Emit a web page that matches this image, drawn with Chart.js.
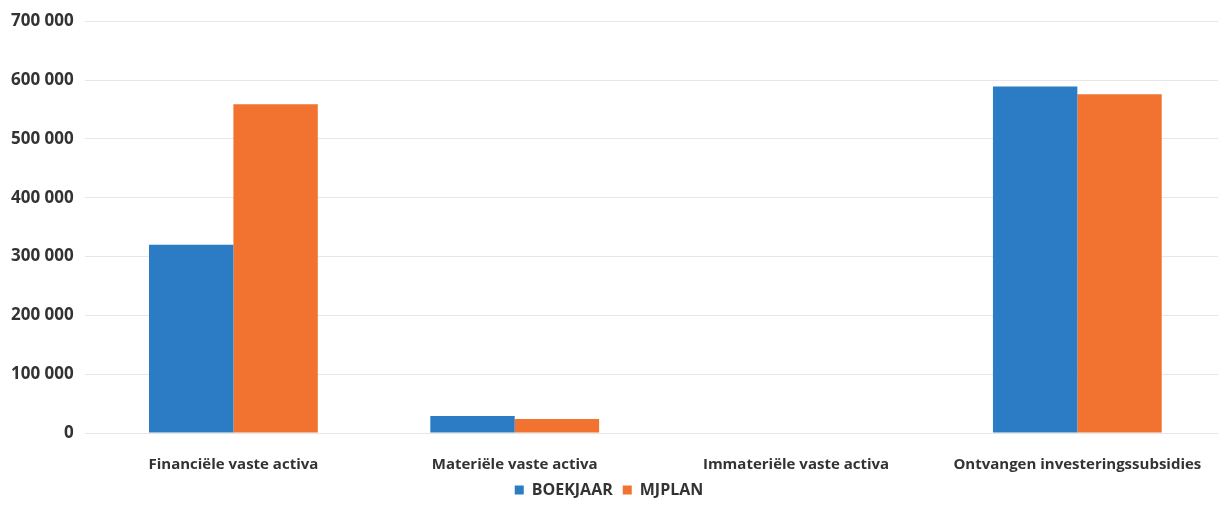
<!DOCTYPE html>
<html>
<head>
<meta charset="utf-8">
<script src="https://cdn.jsdelivr.net/npm/chart.js@4/dist/chart.umd.min.js"></script>
<style>
  html, body { margin: 0; padding: 0; background: #fff; }
  #wrap { width: 1222px; height: 512px; }
</style>
</head>
<body>
<div id="wrap"><canvas id="investChart"></canvas></div>
<script>
var categories = ["Financiële vaste activa", "Materiële vaste activa", "Immateriële vaste activa", "Ontvangen investeringssubsidies"];
var boekjaar = [320000, 29000, 0, 589000];
var mjplan = [559000, 24000, 0, 576000];
var yTicks = [0, 100000, 200000, 300000, 400000, 500000, 600000, 700000];

Chart.defaults.font.family = "'Open Sans', Lato, sans-serif";
Chart.defaults.font.weight = "bold";
Chart.defaults.color = "#333333";

var ctx = document.getElementById("investChart").getContext("2d");
var investChart = new Chart(ctx, {
    type: "bar",
    data: {
        labels: categories,
        datasets: [
            { label: "BOEKJAAR", data: boekjaar, backgroundColor: "#2b7cc4" },
            { label: "MJPLAN", data: mjplan, backgroundColor: "#f2722f" }
        ]
    },
    options: {
        responsive: true,
        maintainAspectRatio: false,
        animation: false,
        layout: { padding: { top: 9, right: 4, left: 0, bottom: 4 } },
        datasets: { bar: { categoryPercentage: 0.6, barPercentage: 1.0 } },
        plugins: {
            legend: {
                position: "bottom",
                labels: { boxWidth: 9, boxHeight: 9, padding: 10, font: { size: 16 } }
            },
            tooltip: { enabled: false }
        },
        scales: {
            x: {
                grid: { display: false },
                border: { display: false },
                ticks: { font: { size: 15 }, padding: 15, maxRotation: 0 },
                afterFit: function (axis) { axis.height = axis.height - 17; }
            },
            y: {
                min: 0,
                max: 700000,
                afterBuildTicks: function (axis) {
                    axis.ticks = yTicks.map(function (v) { return { value: v }; });
                },
                grid: { color: "#e6e6e6", lineWidth: 1 },
                border: { display: false },
                ticks: {
                    font: { size: 17 },
                    padding: 11,
                    callback: function (v) {
                        return String(v).replace(/\B(?=(\d{3})+(?!\d))/g, " ");
                    }
                }
            }
        }
    }
});
</script>
</body>
</html>
